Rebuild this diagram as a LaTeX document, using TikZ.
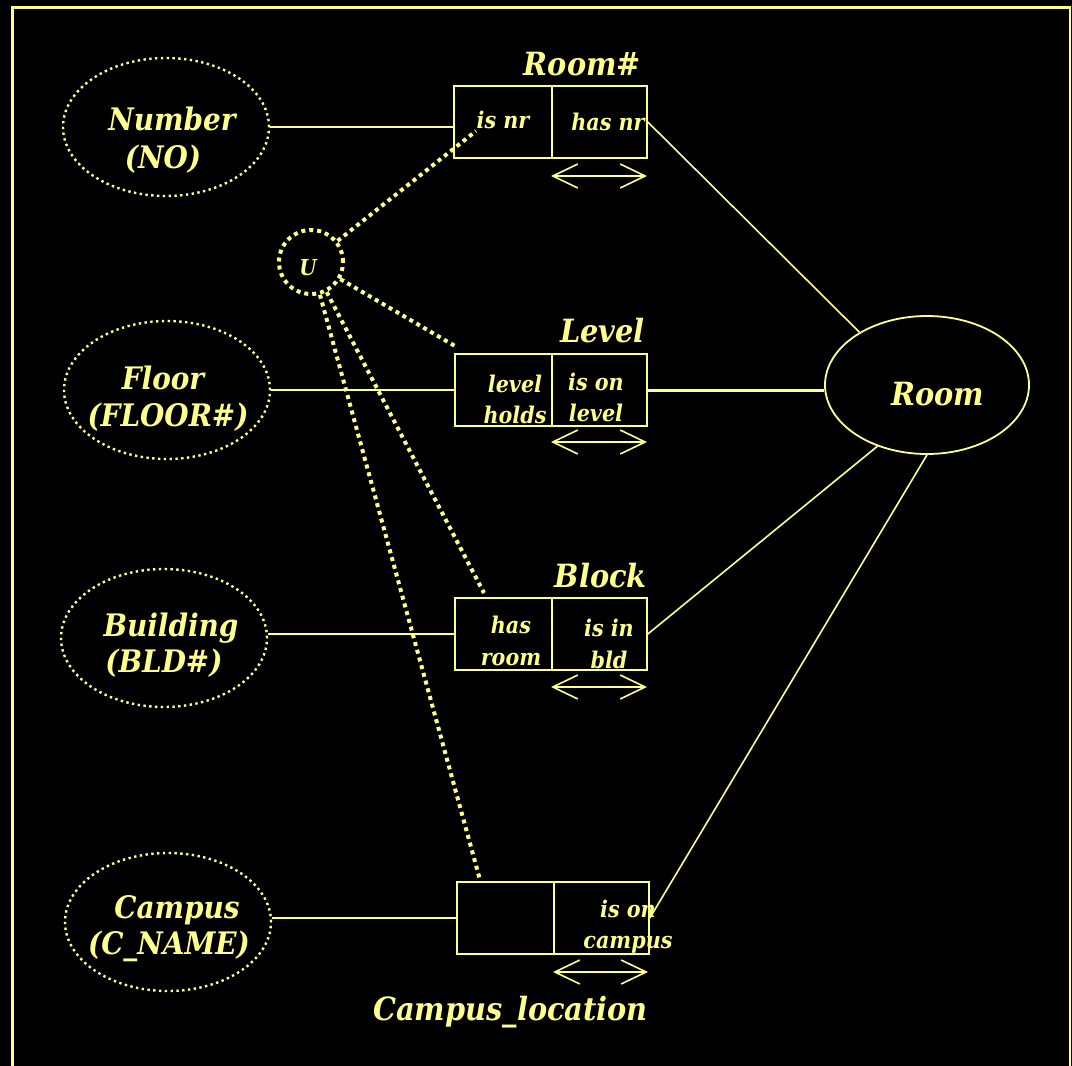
\documentclass[tikz,border=0pt]{standalone}
\usepackage{fontspec}
\setmainfont{DejaVu Serif Condensed}
\usetikzlibrary{shapes.geometric,arrows.meta}
\definecolor{ylw}{RGB}{255,255,140}
\newcommand{\fsz}[1]{\fontsize{#1}{#1}\selectfont\bfseries\itshape}
\begin{document}
\begin{tikzpicture}[
  x=1pt, y=-1pt,
  txt/.style={text=ylw, inner sep=0pt, anchor=base},
  big/.style={txt, font=\fsz{32}},
  attrtxt/.style={txt, font=\fsz{31}},
  small/.style={txt, font=\fsz{23}},
  attr/.style={ellipse, draw=ylw, line width=2.4pt, dash pattern=on 2.4pt off 3.4pt,
    minimum width=206pt, minimum height=138pt, inner sep=0pt},
  ent/.style={ellipse, draw=ylw, line width=1.8pt,
    minimum width=204pt, minimum height=138pt, inner sep=0pt},
  cell/.style={rectangle, draw=ylw, line width=1.6pt, minimum height=72pt, inner sep=0pt},
  link/.style={draw=ylw, line width=1.6pt},
  sub/.style={draw=ylw, line width=4pt, dash pattern=on 4pt off 4pt},
  span/.style={draw=ylw, line width=1.6pt,
    {Straight Barb[length=25pt,width=24pt]}-{Straight Barb[length=25pt,width=24pt]}},
]
\useasboundingbox (0,0) rectangle (1072,1066);
\fill[black] (0,0) rectangle (1072,1066);
\draw[ylw, line width=2.6pt] (12.5,7.5) rectangle (1070,1080);

% value types (dotted ellipses)
\node[attr] (num) at (166,127) {};
\node[attr] (flr) at (167,390) {};
\node[attr] (bld) at (164,638) {};
\node[attr] (cmp) at (168,922) {};
\node[attrtxt] (num1) at (172,130) {Number};
\node[attrtxt] (num2) at (163,168) {(NO)};
\node[attrtxt] (flr1) at (163,389) {Floor};
\node[attrtxt] (flr2) at (168,426) {(FLOOR\#)};
\node[attrtxt] (bld1) at (171,636) {Building};
\node[attrtxt] (bld2) at (164,672) {(BLD\#)};
\node[attrtxt] (cmp1) at (177,918) {Campus};
\node[attrtxt] (cmp2) at (169,954) {(C\_NAME)};

% entity type
\node[ent] (room) at (927,385) {};
\node[big] (roomt) at (938,405) {Room};

% fact types: two roles each
\node[cell, minimum width=98pt] (rl) at (503,122) {};
\node[cell, minimum width=95pt] (rr) at (599.5,122) {};
\node[cell, minimum width=97pt] (ll) at (503.5,390) {};
\node[cell, minimum width=95pt] (lr) at (599.5,390) {};
\node[cell, minimum width=97pt] (bl) at (503.5,634) {};
\node[cell, minimum width=95pt] (br) at (599.5,634) {};
\node[cell, minimum width=97pt] (cl) at (505.5,918) {};
\node[cell, minimum width=95pt] (cr) at (601.5,918) {};

% fact type names
\node[big, anchor=base east] (rt) at (641,75) {Room\#};
\node[big, anchor=base east] (lt) at (645,342) {Level};
\node[big, anchor=base east] (bt) at (647,587) {Block};
\node[big, anchor=base east] (ct) at (648,1020) {Campus\_location};

% role readings
\node[small] (r1) at (503,128) {is nr};
\node[small] (r2) at (608,130) {has nr};
\node[small] (l1) at (515,392) {level};
\node[small] (l2) at (515,423) {holds};
\node[small] (l3) at (596,390) {is on};
\node[small] (l4) at (596,421) {level};
\node[small] (b1) at (511,633) {has};
\node[small] (b2) at (511,665) {room};
\node[small] (b3) at (609,636) {is in};
\node[small] (b4) at (609,668) {bld};
\node[small] (c1) at (628,917) {is on};
\node[small] (c2) at (628,948) {campus};

% uniqueness spans
\coordinate (ra) at (551,176);  \coordinate (rb) at (647,176);
\coordinate (la) at (551,442);  \coordinate (lb) at (647,442);
\coordinate (ba) at (551,687);  \coordinate (bb) at (647,687);
\coordinate (ca) at (553,972);  \coordinate (cb) at (648,972);
\draw[span] (ra) -- (rb);
\draw[span] (la) -- (lb);
\draw[span] (ba) -- (bb);
\draw[span] (ca) -- (cb);

% value types to roles
\draw[link] (num.east) -- (num.east -| rl.west);
\draw[link] (flr.east) -- (flr.east -| ll.west);
\draw[link] (bld.east |- bl.west) -- (bl.west);
\draw[link] (cmp.east |- cl.west) -- (cl.west);

% roles to Room
\draw[link] (rr.east) -- (room.142);
\draw[draw=ylw, line width=3pt] (lr.east) -- (lr.east -| room.west);
\draw[link] (br.east) -- (room.231);
\draw[link] (cr.east) -- (room.270);

% subtype/union constraint
\node[circle, draw=ylw, line width=4pt, dash pattern=on 4pt off 4pt,
      minimum size=64pt, inner sep=0pt] (u) at (311,262) {};
\node[txt, font=\fsz{22}] (ut) at (308,275) {U};
\coordinate (ue1) at (476,131);
\coordinate (ue2) at (455,346);
\coordinate (ue3) at (484,593);
\coordinate (ue4) at (480,880);
\draw[sub] (u) -- (ue1);
\draw[sub] (u) -- (ue2);
\draw[sub] (u) -- (ue3);
\draw[sub] (u) -- (ue4);
\end{tikzpicture}
\end{document}
